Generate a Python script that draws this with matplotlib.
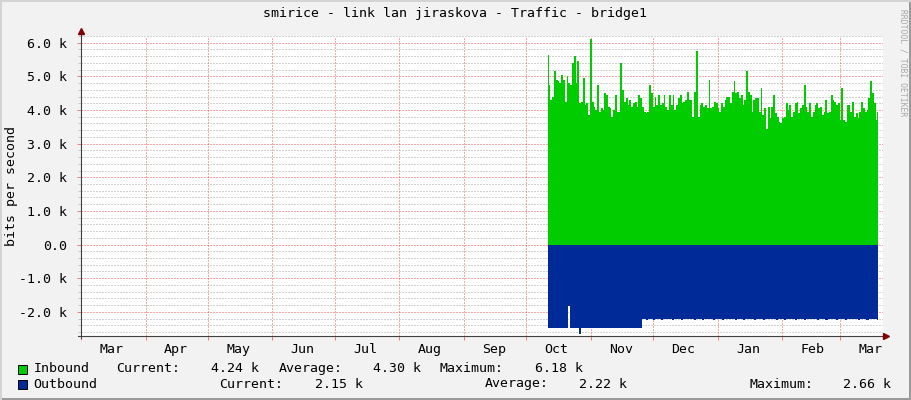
import matplotlib
matplotlib.use("Agg")
import matplotlib.pyplot as plt
import matplotlib.dates as mdates
from matplotlib.patches import Rectangle
from matplotlib.lines import Line2D
import numpy as np
import datetime as dt

plt.rcParams['font.family'] = ['DejaVu Sans Mono', 'DejaVu Sans']

title = "smirice - link lan jiraskova - Traffic - bridge1"
month_names = ["Mar", "Apr", "May", "Jun", "Jul", "Aug", "Sep", "Oct",
               "Nov", "Dec", "Jan", "Feb", "Mar"]
y_ticks = [-2, -1, 0, 1, 2, 3, 4, 5, 6]

# series in k bits/s (Oct .. mid Mar)
inbound = [
    5.63, 4.75, 4.30, 4.40, 5.15, 4.90, 4.85, 4.80, 5.05, 4.90, 4.25, 5.00,
    4.80, 4.75, 5.40, 5.60, 4.80, 5.45, 4.20, 4.25, 4.95, 4.15, 4.20, 3.85,
    6.10, 4.25, 4.10, 4.00, 4.75, 3.95, 4.05, 4.00, 4.50, 4.45, 4.10, 4.05,
    3.80, 4.00, 4.45, 3.95, 3.95, 5.40, 4.60, 4.25, 4.35, 4.15, 4.30, 4.10,
    4.20, 4.25, 4.10, 4.45, 4.35, 4.10, 3.95, 3.90, 3.95, 4.75, 4.50, 4.10,
    4.40, 4.15, 4.45, 4.15, 4.20, 4.45, 4.10, 4.00, 4.45, 4.15, 4.45, 4.00,
    4.15, 4.35, 4.45, 4.20, 4.25, 4.30, 4.55, 4.30, 4.30, 3.80, 4.55, 5.75,
    3.80, 4.15, 4.20, 4.10, 4.15, 4.05, 4.90, 4.05,
    4.10, 4.25, 4.20, 4.05, 3.95, 4.20, 4.10, 4.30, 4.40, 4.40, 4.20, 4.55,
    4.85, 4.50, 4.55, 4.35, 4.45, 4.15, 4.30, 5.15, 4.55, 4.45, 3.95, 4.30,
    4.35, 4.35, 3.95, 4.65, 3.85, 4.05, 3.45, 4.10, 3.75, 4.10, 4.45, 3.90,
    3.80, 3.65, 3.60, 3.75, 3.80, 4.20, 4.00, 4.15, 3.80, 3.95, 4.20, 4.25,
    3.90, 4.05, 4.15, 4.75, 4.10, 3.95, 4.20, 3.80, 3.95, 4.15, 4.20, 4.05,
    4.10, 3.85, 3.95, 4.30, 3.90, 3.95, 4.45, 4.30, 4.25, 4.15, 4.20, 3.70,
    4.65, 3.70, 3.65, 4.15, 4.15, 3.95, 4.25, 3.80, 3.90, 3.75, 3.95, 4.25,
    4.05, 3.95, 4.00, 4.35, 4.85, 4.50, 4.20, 3.70, 3.95,
]
outbound = [
    2.48, 2.48, 2.49, 2.48, 2.48, 2.47, 2.48, 2.48, 2.49, 2.48,
    1.82,
    2.48, 2.48, 2.49, 2.48,
    2.66,
    2.49, 2.48, 2.48, 2.47, 2.48, 2.49, 2.48, 2.48, 2.47, 2.48, 2.48, 2.49,
    2.48, 2.48, 2.47, 2.48, 2.49, 2.48, 2.48, 2.48, 2.47, 2.48, 2.49, 2.48,
    2.48, 2.48, 2.48, 2.49,
    2.22, 2.21, 2.23, 2.22, 2.21, 2.24, 2.22, 2.21, 2.22, 2.23, 2.21, 2.22,
    2.21, 2.22, 2.24, 2.21, 2.22, 2.21, 2.23, 2.22, 2.21, 2.22, 2.22, 2.21,
    2.24, 2.22, 2.21, 2.22, 2.23, 2.21, 2.22, 2.21, 2.22, 2.24, 2.21, 2.22,
    2.21, 2.23, 2.22, 2.21, 2.22, 2.22, 2.21, 2.24, 2.22, 2.21, 2.22, 2.23,
    2.21, 2.22, 2.21, 2.22, 2.24, 2.21, 2.22, 2.21, 2.23, 2.22, 2.21, 2.22,
    2.22, 2.21, 2.24, 2.22, 2.21, 2.22, 2.23, 2.21, 2.22, 2.21, 2.22, 2.24,
    2.21, 2.22, 2.21, 2.23, 2.22, 2.21, 2.22, 2.22, 2.21, 2.24, 2.22, 2.21,
    2.22, 2.23, 2.21, 2.22, 2.21, 2.22, 2.24, 2.21, 2.22, 2.21, 2.23, 2.22,
    2.21, 2.22, 2.22, 2.21, 2.24, 2.22, 2.21, 2.22, 2.23, 2.21, 2.22, 2.21,
    2.22, 2.24,
]
legend_in = ("Inbound", "4.24 k", "4.30 k", "6.18 k")
legend_out = ("Outbound", "2.15 k", "2.22 k", "2.66 k")

# time range of graph and of data
apr1 = dt.datetime(2022, 4, 1)
x_left = apr1 - dt.timedelta(days=29.3)
x_right = apr1 + dt.timedelta(days=354.3)
data_start = apr1 + dt.timedelta(days=193.3)
data_end = apr1 + dt.timedelta(days=352.2)

W, H = 911, 400
def fx(x):
    return x / W
def fy(y):
    return 1 - y / H

BACK = '#f2f2f2'
GREEN = '#00cc00'
BLUE = '#002a97'
ARROW = '#7f0000'
FS = 9.5

fig = plt.figure(figsize=(W / 100, H / 100), dpi=100, facecolor=BACK)
ax = fig.add_axes([fx(81), fy(335.7), fx(882.7) - fx(81), fy(35.7) - fy(335.7)])
ax.set_facecolor('white')

def spread(n):
    t0 = mdates.date2num(data_start)
    t1 = mdates.date2num(data_end)
    return np.linspace(t0, t1, n)

t_in = spread(len(inbound))
t_out = spread(len(outbound))
ax.fill_between(t_in, 0, inbound, step='mid', color=GREEN, lw=0, zorder=2)
ax.fill_between(t_out, 0, [-v for v in outbound], step='mid', color=BLUE, lw=0, zorder=2)

ax.set_xlim(mdates.date2num(x_left), mdates.date2num(x_right))
ax.set_ylim(-2.71, 6.21)

# month grid + labels centred inside each month
month_starts = [dt.datetime(2022 + (2 + i) // 12, (2 + i) % 12 + 1, 1) for i in range(len(month_names))]
grid_x = [mdates.date2num(m) for m in month_starts]
label_x = [g + 14.5 for g in grid_x]
ax.set_xticks(grid_x)
ax.set_xticklabels([])
ax.set_xticks(label_x, minor=True)
ax.set_xticklabels(month_names, minor=True)
ax.tick_params(axis='x', which='minor', length=0, pad=5, labelsize=FS, colors='black')
ax.tick_params(axis='x', which='major', length=3, color='#f08080', width=0.72)

ax.set_yticks(y_ticks)
ax.set_yticklabels(["0.0" if v == 0 else f"{v:.1f} k" for v in y_ticks])
ax.set_yticks(np.arange(-2.6, 6.21, 0.2), minor=True)
ax.tick_params(axis='y', which='major', length=3, color='#f08080', width=0.72,
               labelsize=FS, pad=7, labelcolor='black')
ax.tick_params(axis='y', which='minor', length=2, color='#c8c8c8', width=0.72)

dots = (0, (1, 1))
ax.grid(True, axis='y', which='minor', color='#808080', ls=dots, lw=1.0, zorder=3, alpha=0.35)
ax.grid(True, axis='y', which='major', color='#ff0000', ls=dots, lw=1.0, zorder=3, alpha=0.35)
ax.grid(True, axis='x', which='major', color='#ff0000', ls=dots, lw=1.0, zorder=3, alpha=0.35)
for gl in ax.xaxis.get_gridlines() + ax.yaxis.get_gridlines():
    gl.set_antialiased(False)
for tick in ax.yaxis.get_minor_ticks():
    tick.gridline.set_antialiased(False)

for s in ['top', 'right', 'left', 'bottom']:
    ax.spines[s].set_visible(False)

# axis lines with arrows
fig.add_artist(Line2D([fx(81), fx(81)], [fy(338), fy(31)], color='#404040', lw=0.8, zorder=5))
fig.add_artist(Line2D([fx(78), fx(886)], [fy(335.7), fy(335.7)], color='#404040', lw=0.8, zorder=5))
fig.add_artist(Line2D([fx(81)], [fy(31)], marker='^', ms=5, color=ARROW, lw=0, zorder=6))
fig.add_artist(Line2D([fx(886)], [fy(335.7)], marker='>', ms=5, color=ARROW, lw=0, zorder=6))

fig.text(fx(455), fy(14), title, ha='center', va='center', fontsize=FS)
fig.text(fx(12), fy(185.5), "bits per second", rotation=90, ha='center', va='center', fontsize=FS)
fig.text(fx(903), fy(9), "RRDTOOL / TOBI OETIKER", rotation=270, ha='center', va='top',
         fontsize=5.8, color='#a8a8a8')

# legend
def legend_row(y, colour, labels, xs):
    fig.add_artist(Rectangle((fx(17.5), fy(y + 5)), 9 / W, 9 / H, facecolor=colour,
                             edgecolor='black', lw=0.7, transform=fig.transFigure))
    name, cur, avg, mx = labels
    fig.text(fx(33.5), fy(y), name, ha='left', va='center', fontsize=FS)
    fig.text(fx(xs[0]), fy(y), "Current:", ha='left', va='center', fontsize=FS)
    fig.text(fx(xs[1]), fy(y), cur, ha='right', va='center', fontsize=FS)
    fig.text(fx(xs[2]), fy(y), "Average:", ha='left', va='center', fontsize=FS)
    fig.text(fx(xs[3]), fy(y), avg, ha='right', va='center', fontsize=FS)
    fig.text(fx(xs[4]), fy(y), "Maximum:", ha='left', va='center', fontsize=FS)
    fig.text(fx(xs[5]), fy(y), mx, ha='right', va='center', fontsize=FS)

legend_row(368.5, GREEN, legend_in, [116, 259, 279, 421, 440, 583])
legend_row(384, BLUE, legend_out, [219.5, 363, 485, 627, 749, 891])

# frame shading
fig.add_artist(Rectangle((0, fy(400)), 1, 2.5 / H, color='#9a9a9a', transform=fig.transFigure, lw=0))
fig.add_artist(Rectangle((fx(908.5), 0), 2.5 / W, 1, color='#9a9a9a', transform=fig.transFigure, lw=0))
fig.add_artist(Rectangle((0, fy(2)), 1, 2 / H, color='#d4d4d4', transform=fig.transFigure, lw=0))
fig.add_artist(Rectangle((0, 0), 2 / W, 1, color='#d4d4d4', transform=fig.transFigure, lw=0))

fig.savefig("out.png", dpi=100, facecolor=BACK)
